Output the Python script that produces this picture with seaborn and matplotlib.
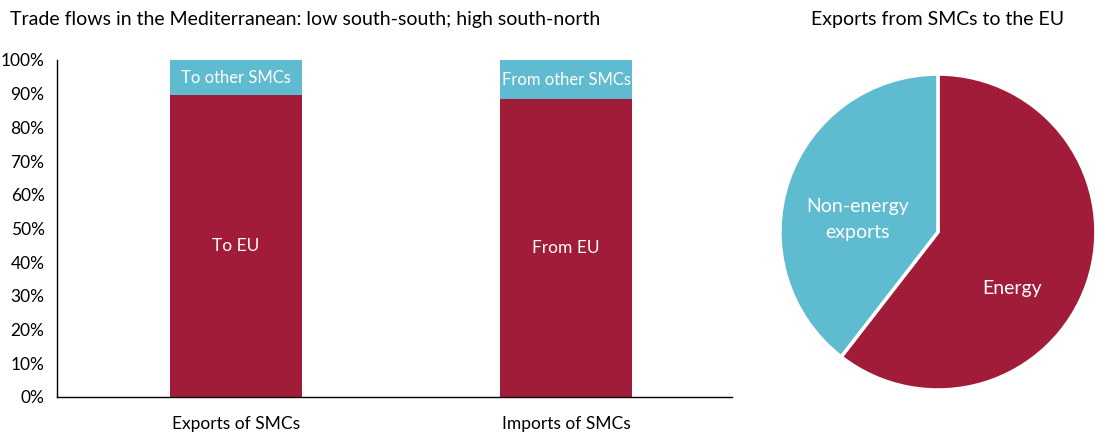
import matplotlib
matplotlib.use("Agg")
import matplotlib.pyplot as plt
import seaborn as sns
import pandas as pd

# Data
categories = ["Exports of SMCs", "Imports of SMCs"]
eu_share = [89.6, 88.4]
other_share = [10.4, 11.6]
eu_labels = ["To EU", "From EU"]
other_labels = ["To other SMCs", "From other SMCs"]

pie_labels = ["Energy", "Non-energy\nexports"]
pie_values = [60.5, 39.5]

red = "#A11C38"
cyan = "#5FBBCF"

sns.set_theme(style="white")
plt.rcParams["font.family"] = ["Lato", "DejaVu Sans"]
plt.rcParams["text.color"] = "black"
plt.rcParams["xtick.color"] = "black"
plt.rcParams["ytick.color"] = "black"

df = pd.DataFrame({"category": categories, "eu": eu_share, "other": other_share})
df["total"] = df["eu"] + df["other"]

fig = plt.figure(figsize=(11.01, 4.34), dpi=100)

# Stacked bars
ax = fig.add_axes([0.0518, 0.0853, 0.6131, 0.7765])
sns.barplot(data=df, x="category", y="total", color=cyan, width=0.4,
            saturation=1, ax=ax)
sns.barplot(data=df, x="category", y="eu", color=red, width=0.4,
            saturation=1, ax=ax)
for p in ax.patches:
    p.set_linewidth(0)
ax.set_xlim(-0.542, 1.503)
ax.set_ylim(0, 100)
ax.set_yticks(range(0, 101, 10))
ax.set_yticklabels([f"{v}%" for v in range(0, 101, 10)], fontsize=12.5)
ax.tick_params(axis="x", labelsize=12.5, pad=14, length=0)
ax.tick_params(axis="y", length=0, pad=9)
ax.set_xlabel("")
ax.set_ylabel("")
for s in ["top", "right"]:
    ax.spines[s].set_visible(False)
for s in ["left", "bottom"]:
    ax.spines[s].set_color("black")
    ax.spines[s].set_linewidth(1)

for i in range(len(categories)):
    ax.text(i, eu_share[i] / 2, eu_labels[i], ha="center", va="center",
            color="white", fontsize=12.5)
    ax.text(i, eu_share[i] + other_share[i] / 2, other_labels[i], ha="center",
            va="center", color="white", fontsize=12)

fig.text(0.009, 0.955, "Trade flows in the Mediterranean: low south-south; high south-north",
         ha="left", va="center", fontsize=14)

# Pie
pax = fig.add_axes([0.7084, 0.1014, 0.287, 0.728])
wedges, _ = pax.pie(pie_values, colors=[red, cyan], startangle=90,
                    counterclock=False, radius=1,
                    wedgeprops=dict(edgecolor="white", linewidth=2.5))
pax.set_xlim(-1, 1)
pax.set_ylim(-1, 1)
pax.set_aspect("equal")
pax.text(0.47, -0.36, pie_labels[0], ha="center", va="center",
         color="white", fontsize=14)
pax.text(-0.51, 0.08, pie_labels[1], ha="center", va="center",
         color="white", fontsize=14, linespacing=1.65)
fig.text(0.852, 0.955, "Exports from SMCs to the EU", ha="center",
         va="center", fontsize=14)

fig.savefig("out.png", dpi=100)
